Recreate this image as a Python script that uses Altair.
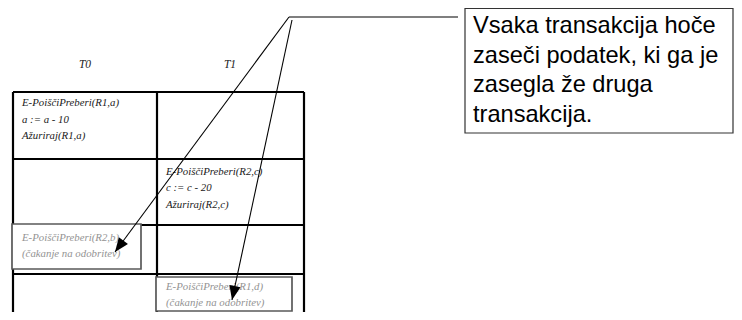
import math
import altair as alt
import pandas as pd

# ---------------- content ----------------
transactions = ["T0", "T1"]

step_txn = ["T0", "T1", "T0", "T1"]
step_lines = [
    ["E-PoiščiPreberi(R1,a)", "a := a - 10", "Ažuriraj(R1,a)"],
    ["E-PoiščiPreberi(R2,c)", "c := c - 20", "Ažuriraj(R2,c)"],
    ["E-PoiščiPreberi(R2,b)", "(čakanje na odobritev)"],
    ["E-PoiščiPreberi(R1,d)", "(čakanje na odobritev)"],
]
step_waiting = [False, False, True, True]

callout_lines = [
    "Vsaka transakcija hoče",
    "zaseči podatek, ki ga je",
    "zasegla že druga",
    "transakcija.",
]

# ---------------- layout (screen pixels) ----------------
W, H = 726, 304
X0, Y0 = 8, 8
col_edges = [13, 157, 304]
row_edges = [92, 159, 225, 274]
table_bottom = 330
header_x = [85, 230]
header_y = 65
wait_boxes = [(12, 141, 224, 269), (156, 292, 277, 311)]
callout_box = (465, 733, 8.5, 133)
apex = [(289, 17), (292, 20)]
callout_h_end = 458
arrow_tips = [(115, 252), (232, 300)]

xs = alt.Scale(domain=[X0, X0 + W], nice=False, zero=False)
ys = alt.Scale(domain=[Y0, Y0 + H], reverse=True, nice=False, zero=False)


def X(f="x"):
    return alt.X(f"{f}:Q", scale=xs, axis=None)


def Y(f="y"):
    return alt.Y(f"{f}:Q", scale=ys, axis=None)


# table grid lines
grid = []
for cx in col_edges:
    grid.append(dict(x=cx, x2=cx, y=row_edges[0], y2=table_bottom))
for ry in row_edges:
    grid.append(dict(x=col_edges[0], x2=col_edges[-1], y=ry, y2=ry))
grid_df = pd.DataFrame(grid)
grid_layer = alt.Chart(grid_df).mark_rule(color="black", strokeWidth=2.2).encode(
    x=X(), x2="x2:Q", y=Y(), y2="y2:Q"
)

# headers
hdr_df = pd.DataFrame({"t": transactions, "x": header_x, "y": [header_y] * 2})
hdr_layer = alt.Chart(hdr_df).mark_text(
    font="Liberation Serif", fontStyle="italic", fontSize=11.5, color="#222222",
    align="center", baseline="middle"
).encode(x=X(), y=Y(), text="t:N")

# waiting boxes
wb_df = pd.DataFrame([dict(x=a, x2=b, y=c, y2=d) for a, b, c, d in wait_boxes])
wb_layer = alt.Chart(wb_df).mark_rect(
    fill="white", stroke="#5a5a5a", strokeWidth=1.7
).encode(x=X(), x2="x2:Q", y=Y(), y2="y2:Q")

# step texts
rows = []
for i, (t, lines, wait) in enumerate(zip(step_txn, step_lines, step_waiting)):
    cx = col_edges[transactions.index(t)] + 9
    top = row_edges[i] + (11 if i == 0 else 12.5)
    for j, s in enumerate(lines):
        rows.append(dict(x=cx, y=top + j * 16.5, s=s, kind="wait" if wait else "op"))
txt_df = pd.DataFrame(rows)
txt_layer = alt.Chart(txt_df).mark_text(
    font="Liberation Serif", fontStyle="italic", fontSize=10.8,
    align="left", baseline="middle"
).encode(
    x=X(), y=Y(), text="s:N",
    color=alt.Color("kind:N", scale=alt.Scale(domain=["op", "wait"], range=["#1a1a1a", "#939393"]), legend=None),
)

# callout lines
cl = [dict(x=apex[0][0], x2=callout_h_end, y=apex[0][1], y2=apex[0][1])]
for (ax, ay), (tx, ty) in zip(apex, arrow_tips):
    cl.append(dict(x=ax, x2=tx, y=ay, y2=ty))
cl_df = pd.DataFrame(cl)
cl_layer = alt.Chart(cl_df).mark_rule(color="black", strokeWidth=1.1).encode(
    x=X(), x2="x2:Q", y=Y(), y2="y2:Q"
)

# arrow heads
ah = []
for (ax, ay), (tx, ty) in zip(apex, arrow_tips):
    ang = math.degrees(math.atan2(tx - ax, -(ty - ay))) % 360
    ah.append(dict(x=tx, y=ty, a=ang))
ah_df = pd.DataFrame(ah)
ah_layer = alt.Chart(ah_df).mark_point(
    shape="M0,0L0.8,2L-0.8,2Z", filled=True, color="black", opacity=1, size=200
).encode(x=X(), y=Y(), angle=alt.Angle("a:Q", scale=None))

# callout box
cb_df = pd.DataFrame([dict(x=callout_box[0], x2=callout_box[1], y=callout_box[2], y2=callout_box[3])])
cb_layer = alt.Chart(cb_df).mark_rect(
    fill="white", stroke="#333333", strokeWidth=1.2
).encode(x=X(), x2="x2:Q", y=Y(), y2="y2:Q")

ct_df = pd.DataFrame({"s": callout_lines, "x": [473] * 4, "y": [33 + i * 29.6 for i in range(4)]})
ct_layer = alt.Chart(ct_df).mark_text(
    font="Liberation Sans", fontSize=23.6, color="black", align="left", baseline="alphabetic"
).encode(x=X(), y=Y(), text="s:N")

chart = alt.layer(
    grid_layer, wb_layer, hdr_layer, txt_layer, cl_layer, ah_layer, cb_layer, ct_layer
).properties(
    width=W, height=H, padding=0, autosize=alt.AutoSizeParams(type="none"),
    background="transparent",
).configure_view(stroke="transparent", strokeWidth=0, fill="transparent")

chart.save("out.html", embed_options={"renderer": "svg", "actions": False})
